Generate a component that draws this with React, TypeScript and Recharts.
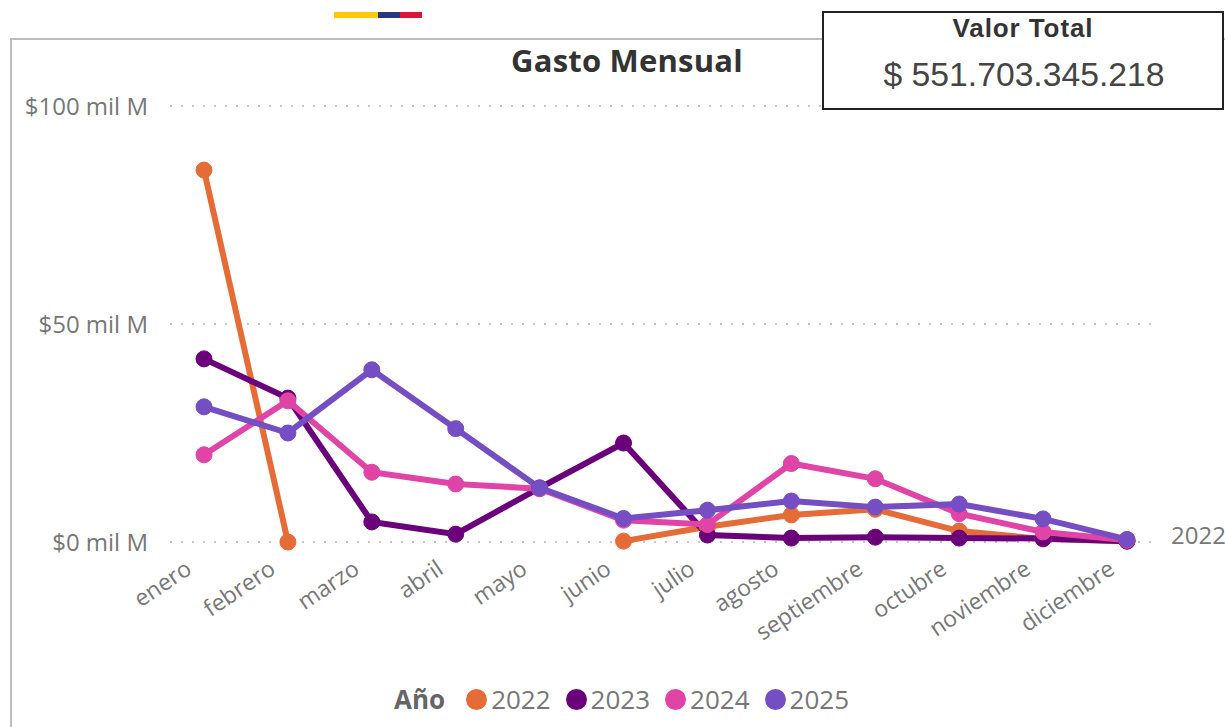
import { CartesianGrid, Line, LineChart, XAxis, YAxis } from "recharts";

const MONTHS = ["enero", "febrero", "marzo", "abril", "mayo", "junio", "julio", "agosto", "septiembre", "octubre", "noviembre", "diciembre"];
const YEARS = ["2022", "2023", "2024", "2025"];
const COLORS = ["#E66C37", "#6B007B", "#E044A7", "#744EC2"];
const Y_TICKS = [0, 50, 100];

// miles de millones
const V2022 = [85.3, 0, null, null, null, 0.2, 3.5, 6.2, 7.5, 2.5, 0.7, 0.2];
const V2023 = [42, 33, 4.6, 1.8, 12.4, 22.7, 1.6, 0.9, 1.1, 0.9, 0.8, 0.2];
const V2024 = [20, 32.4, 16, 13.3, 12.2, 5, 4, 18, 14.5, 6.5, 2.3, 0.4];
const V2025 = [31, 25, 39.5, 26, 12.4, 5.4, 7.3, 9.4, 8, 8.7, 5.3, 0.6];

const data = MONTHS.map((month, i) => ({
    month,
    "2022": V2022[i],
    "2023": V2023[i],
    "2024": V2024[i],
    "2025": V2025[i],
}));

const FONT = "'Open Sans', sans-serif";

export default function App() {
    return (
        <div style={{ position: "absolute", left: 0, top: 0, width: 1225, height: 727, background: "#fff", overflow: "hidden", fontFamily: FONT }}>
            {/* franja de la bandera */}
            <div style={{ position: "absolute", left: 334, top: 12, width: 44, height: 6, background: "#FFC907" }} />
            <div style={{ position: "absolute", left: 378, top: 12, width: 22, height: 6, background: "#27397E" }} />
            <div style={{ position: "absolute", left: 400, top: 12, width: 22, height: 6, background: "#DC1537" }} />

            {/* marco */}
            <div style={{ position: "absolute", left: 10, top: 38, width: 1225, height: 700, border: "2px solid #BDBDBD", boxSizing: "border-box" }} />

            <div style={{ position: "absolute", left: 0, top: 0 }}>
                <LineChart width={1225} height={727} data={data} margin={{ top: 106, right: 68, bottom: 85, left: 0 }}>
                    <CartesianGrid vertical={false} stroke="#C8C8C8" strokeWidth={2} strokeDasharray="2 9" />
                    <XAxis
                        dataKey="month"
                        height={100}
                        interval={0}
                        padding={{ left: 34, right: 30 }}
                        axisLine={false}
                        tickLine={false}
                        angle={-34}
                        textAnchor="end"
                        dx={-20}
                        dy={9}
                        tick={{ fill: "#777777", fontSize: 23, fontFamily: FONT }}
                    />
                    <YAxis
                        width={170}
                        domain={[0, 100]}
                        ticks={Y_TICKS}
                        axisLine={false}
                        tickLine={false}
                        tickSize={0}
                        tickMargin={22}
                        tickFormatter={(v: number) => `$${v} mil M`}
                        tick={{ fill: "#777777", fontSize: 24, fontFamily: FONT }}
                    />
                    {YEARS.map((year, i) => (
                        <Line
                            key={year}
                            dataKey={year}
                            stroke={COLORS[i]}
                            strokeWidth={6}
                            dot={{ r: 8, fill: COLORS[i], stroke: COLORS[i], strokeWidth: 1 }}
                            connectNulls={false}
                            isAnimationActive={false}
                        />
                    ))}
                </LineChart>
            </div>

            <div style={{ position: "absolute", left: 427, width: 400, top: 40, textAlign: "center", fontSize: 31, fontWeight: 700, color: "#333333", lineHeight: "40px", letterSpacing: 0.2 }}>
                Gasto Mensual
            </div>

            <div style={{ position: "absolute", left: 1171, top: 520, fontSize: 24, color: "#777777", lineHeight: "30px" }}>2022</div>

            {/* leyenda */}
            <div style={{ position: "absolute", left: 394, top: 682, height: 34, display: "flex", alignItems: "center", fontSize: 26, color: "#777777" }}>
                <span style={{ fontWeight: 700, color: "#666666", marginRight: 21 }}>Año</span>
                {YEARS.map((year, i) => (
                    <span key={year} style={{ display: "flex", alignItems: "center", marginRight: 15 }}>
                        <span style={{ width: 21, height: 21, borderRadius: "50%", background: COLORS[i], marginRight: 4 }} />
                        {year}
                    </span>
                ))}
            </div>

            {/* tarjeta de valor total */}
            <div style={{ position: "absolute", left: 822, top: 11, width: 402, height: 99, boxSizing: "border-box", border: "2px solid #222222", background: "#fff", textAlign: "center", fontFamily: "'Liberation Sans', Arial, sans-serif" }}>
                <div style={{ fontSize: 26, fontWeight: 700, color: "#333333", lineHeight: "30px", marginTop: 0, letterSpacing: 0.9 }}>Valor Total</div>
                <div style={{ fontSize: 33.7, color: "#444444", lineHeight: "40px", marginTop: 11, marginLeft: 2 }}>$ 551.703.345.218</div>
            </div>
        </div>
    );
}
